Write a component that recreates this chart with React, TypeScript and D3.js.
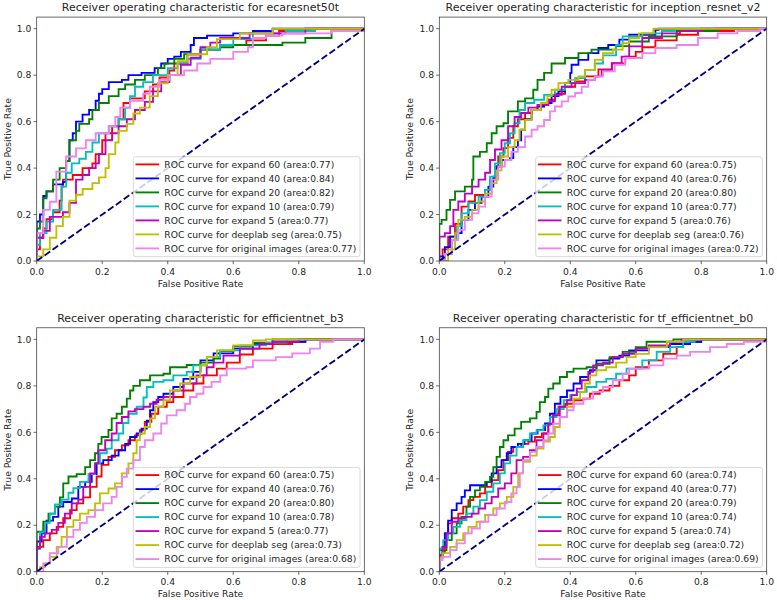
import React from "react";
import * as d3 from "d3";

type Pt = [number, number];

// ---------- labels & ticks ----------
const panelTitles = [
  "Receiver operating characteristic for ecaresnet50t",
  "Receiver operating characteristic for inception_resnet_v2",
  "Receiver operating characteristic for efficientnet_b3",
  "Receiver operating characteristic for tf_efficientnet_b0",
];
const seriesLabels = [
  "ROC curve for expand 60",
  "ROC curve for expand 40",
  "ROC curve for expand 20",
  "ROC curve for expand 10",
  "ROC curve for expand 5",
  "ROC curve for deeplab seg",
  "ROC curve for original images",
];
const xTicks = [0, 0.2, 0.4, 0.6, 0.8, 1.0];
const yTicks = [0, 0.2, 0.4, 0.6, 0.8, 1.0];
const xLabel = "False Positive Rate";
const yLabel = "True Positive Rate";

// ---------- AUC values ----------
const ecaresnetAreas = [0.77, 0.84, 0.82, 0.79, 0.77, 0.75, 0.77];
const inceptionAreas = [0.75, 0.76, 0.8, 0.77, 0.76, 0.76, 0.72];
const effb3Areas = [0.75, 0.76, 0.8, 0.78, 0.77, 0.73, 0.68];
const tfEffb0Areas = [0.74, 0.77, 0.79, 0.74, 0.74, 0.72, 0.69];

// ---------- ecaresnet50t ----------
const ecaE60: Pt[] = [[0,0],[0,0.05],[0.01,0.1],[0.02,0.14],[0.03,0.18],[0.05,0.21],[0.07,0.26],[0.076,0.32],[0.08,0.35],[0.11,0.37],[0.14,0.4],[0.17,0.42],[0.18,0.46],[0.2,0.52],[0.21,0.55],[0.23,0.58],[0.25,0.61],[0.265,0.68],[0.285,0.7],[0.33,0.73],[0.355,0.76],[0.375,0.79],[0.405,0.82],[0.42,0.85],[0.46,0.89],[0.5,0.91],[0.56,0.93],[0.64,0.95],[0.7,0.97],[0.74,0.99],[0.82,1],[1,1]];
const ecaE40: Pt[] = [[0,0],[0,0.17],[0.01,0.2],[0.02,0.28],[0.03,0.3],[0.05,0.33],[0.08,0.34],[0.09,0.43],[0.1,0.52],[0.11,0.55],[0.12,0.6],[0.14,0.63],[0.16,0.65],[0.18,0.69],[0.19,0.72],[0.2,0.74],[0.22,0.77],[0.26,0.78],[0.28,0.8],[0.32,0.81],[0.36,0.83],[0.38,0.85],[0.4,0.87],[0.42,0.88],[0.44,0.9],[0.47,0.93],[0.48,0.96],[0.52,0.97],[0.6,0.98],[0.66,0.99],[0.72,1],[1,1]];
const ecaE20: Pt[] = [[0,0],[0,0.14],[0.01,0.17],[0.02,0.27],[0.03,0.3],[0.05,0.35],[0.07,0.4],[0.09,0.43],[0.1,0.52],[0.12,0.56],[0.13,0.59],[0.16,0.61],[0.17,0.65],[0.19,0.68],[0.22,0.71],[0.25,0.74],[0.27,0.76],[0.3,0.78],[0.33,0.8],[0.37,0.83],[0.39,0.85],[0.42,0.87],[0.45,0.89],[0.5,0.91],[0.56,0.92],[0.6,0.93],[0.75,0.94],[0.82,0.96],[0.9,0.99],[1,1]];
const ecaE10: Pt[] = [[0,0],[0,0.07],[0.01,0.12],[0.03,0.17],[0.05,0.22],[0.076,0.32],[0.09,0.38],[0.107,0.42],[0.13,0.44],[0.15,0.47],[0.17,0.51],[0.19,0.55],[0.22,0.58],[0.25,0.61],[0.27,0.66],[0.285,0.71],[0.3,0.75],[0.325,0.77],[0.355,0.8],[0.4,0.83],[0.43,0.85],[0.46,0.87],[0.5,0.91],[0.56,0.93],[0.6,0.955],[0.66,0.98],[0.76,0.99],[0.85,1],[1,1]];
const ecaE5: Pt[] = [[0,0],[0,0.1],[0.02,0.13],[0.04,0.19],[0.08,0.21],[0.1,0.25],[0.12,0.35],[0.14,0.37],[0.16,0.4],[0.18,0.42],[0.19,0.46],[0.21,0.52],[0.23,0.55],[0.25,0.58],[0.275,0.61],[0.3,0.65],[0.33,0.685],[0.355,0.73],[0.38,0.77],[0.405,0.8],[0.44,0.845],[0.47,0.875],[0.5,0.92],[0.53,0.94],[0.56,0.96],[0.65,0.98],[0.82,1],[1,1]];
const ecaDeeplab: Pt[] = [[0,0],[0,0.02],[0.02,0.05],[0.04,0.1],[0.06,0.15],[0.08,0.19],[0.1,0.26],[0.12,0.285],[0.14,0.31],[0.17,0.335],[0.19,0.36],[0.21,0.4],[0.22,0.46],[0.24,0.51],[0.25,0.56],[0.275,0.59],[0.295,0.635],[0.315,0.66],[0.345,0.71],[0.37,0.765],[0.4,0.8],[0.43,0.86],[0.46,0.89],[0.52,0.92],[0.55,0.955],[0.62,0.98],[0.72,1],[1,1]];
const ecaOriginal: Pt[] = [[0,0],[0,0.12],[0.02,0.22],[0.04,0.255],[0.06,0.385],[0.09,0.45],[0.12,0.485],[0.15,0.52],[0.18,0.55],[0.22,0.58],[0.24,0.62],[0.255,0.66],[0.285,0.69],[0.325,0.72],[0.345,0.75],[0.375,0.78],[0.405,0.8],[0.45,0.82],[0.49,0.85],[0.53,0.87],[0.6,0.9],[0.645,0.92],[0.66,0.96],[0.7,0.97],[0.75,0.98],[0.9,0.99],[1,1]];

// ---------- inception_resnet_v2 ----------
const incE60: Pt[] = [[0,0],[0.01,0.05],[0.027,0.105],[0.048,0.16],[0.068,0.234],[0.089,0.256],[0.109,0.284],[0.14,0.306],[0.155,0.35],[0.17,0.407],[0.18,0.45],[0.196,0.486],[0.21,0.53],[0.226,0.58],[0.24,0.61],[0.262,0.637],[0.282,0.65],[0.31,0.672],[0.333,0.694],[0.353,0.72],[0.384,0.75],[0.415,0.773],[0.445,0.795],[0.486,0.825],[0.527,0.85],[0.568,0.88],[0.6,0.9],[0.62,0.92],[0.66,0.95],[0.725,0.974],[0.79,0.99],[0.9,1],[1,1]];
const incE40: Pt[] = [[0,0],[0,0.02],[0.017,0.06],[0.033,0.105],[0.048,0.12],[0.068,0.177],[0.089,0.22],[0.109,0.25],[0.129,0.277],[0.15,0.32],[0.165,0.363],[0.175,0.407],[0.19,0.435],[0.216,0.443],[0.226,0.49],[0.24,0.52],[0.25,0.565],[0.262,0.61],[0.282,0.65],[0.3,0.665],[0.32,0.68],[0.343,0.71],[0.364,0.73],[0.384,0.766],[0.4,0.81],[0.404,0.845],[0.425,0.866],[0.455,0.895],[0.486,0.917],[0.516,0.93],[0.55,0.953],[0.58,0.974],[0.66,0.995],[0.67,1],[1,1]];
const incE20: Pt[] = [[0,0],[0,0.16],[0.007,0.177],[0.022,0.22],[0.033,0.263],[0.048,0.3],[0.078,0.32],[0.1,0.35],[0.104,0.45],[0.124,0.47],[0.145,0.507],[0.16,0.55],[0.175,0.58],[0.196,0.593],[0.21,0.644],[0.24,0.687],[0.262,0.7],[0.287,0.737],[0.3,0.78],[0.32,0.81],[0.343,0.85],[0.364,0.85],[0.384,0.874],[0.425,0.895],[0.465,0.91],[0.54,0.925],[0.58,0.945],[0.64,0.967],[0.725,0.99],[0.85,1],[1,1]];
const incE10: Pt[] = [[0,0],[0.017,0.03],[0.038,0.09],[0.053,0.15],[0.068,0.205],[0.089,0.25],[0.12,0.277],[0.14,0.306],[0.155,0.363],[0.17,0.42],[0.185,0.464],[0.2,0.507],[0.216,0.55],[0.23,0.593],[0.245,0.65],[0.262,0.68],[0.29,0.694],[0.32,0.715],[0.353,0.737],[0.384,0.766],[0.415,0.787],[0.445,0.823],[0.475,0.85],[0.5,0.885],[0.54,0.93],[0.56,0.967],[0.62,0.98],[0.68,0.99],[0.72,1],[1,1]];
const incE5: Pt[] = [[0,0],[0,0.105],[0.017,0.12],[0.033,0.15],[0.043,0.22],[0.058,0.256],[0.078,0.29],[0.1,0.32],[0.12,0.35],[0.14,0.38],[0.155,0.435],[0.17,0.48],[0.19,0.52],[0.21,0.58],[0.23,0.62],[0.25,0.637],[0.272,0.66],[0.3,0.672],[0.333,0.687],[0.353,0.715],[0.374,0.75],[0.404,0.766],[0.445,0.78],[0.475,0.795],[0.496,0.823],[0.527,0.852],[0.557,0.88],[0.58,0.924],[0.62,0.96],[0.68,0.98],[0.735,0.99],[0.8,1],[1,1]];
const incDeeplab: Pt[] = [[0,0],[0.027,0.05],[0.048,0.12],[0.058,0.177],[0.078,0.19],[0.1,0.22],[0.12,0.256],[0.14,0.29],[0.16,0.335],[0.175,0.39],[0.19,0.45],[0.21,0.49],[0.23,0.52],[0.245,0.565],[0.262,0.607],[0.282,0.65],[0.31,0.68],[0.33,0.71],[0.343,0.737],[0.364,0.766],[0.394,0.78],[0.425,0.795],[0.445,0.823],[0.475,0.866],[0.5,0.895],[0.53,0.91],[0.56,0.938],[0.58,0.96],[0.61,0.98],[0.654,1],[1,1]];
const incOriginal: Pt[] = [[0,0],[0.017,0.03],[0.038,0.09],[0.058,0.134],[0.078,0.177],[0.1,0.205],[0.12,0.234],[0.14,0.277],[0.16,0.35],[0.18,0.407],[0.2,0.435],[0.22,0.47],[0.24,0.49],[0.262,0.536],[0.282,0.565],[0.3,0.58],[0.32,0.607],[0.338,0.644],[0.353,0.665],[0.374,0.687],[0.394,0.708],[0.415,0.723],[0.435,0.75],[0.455,0.78],[0.475,0.795],[0.5,0.816],[0.536,0.845],[0.567,0.874],[0.62,0.895],[0.66,0.917],[0.725,0.93],[0.79,0.96],[0.85,0.98],[0.91,0.99],[0.98,1],[1,1]];

// ---------- efficientnet_b3 ----------
const b3E60: Pt[] = [[0,0],[0,0.107],[0.02,0.136],[0.04,0.165],[0.061,0.193],[0.081,0.23],[0.102,0.265],[0.122,0.294],[0.142,0.32],[0.163,0.365],[0.183,0.41],[0.198,0.46],[0.219,0.494],[0.239,0.523],[0.26,0.544],[0.28,0.566],[0.3,0.587],[0.315,0.609],[0.33,0.645],[0.35,0.68],[0.371,0.71],[0.397,0.73],[0.417,0.752],[0.448,0.78],[0.478,0.81],[0.509,0.845],[0.55,0.874],[0.58,0.9],[0.62,0.935],[0.66,0.96],[0.72,0.98],[0.78,0.99],[0.82,1],[1,1]];
const b3E40: Pt[] = [[0,0],[0,0.13],[0.015,0.165],[0.03,0.22],[0.05,0.236],[0.066,0.28],[0.081,0.3],[0.107,0.315],[0.127,0.365],[0.148,0.387],[0.168,0.42],[0.183,0.466],[0.203,0.48],[0.229,0.5],[0.25,0.523],[0.27,0.55],[0.285,0.58],[0.305,0.595],[0.32,0.616],[0.336,0.65],[0.346,0.695],[0.356,0.73],[0.371,0.752],[0.387,0.766],[0.417,0.795],[0.448,0.83],[0.478,0.86],[0.5,0.91],[0.54,0.94],[0.6,0.96],[0.66,0.98],[0.72,0.99],[0.82,1],[1,1]];
const b3E20: Pt[] = [[0,0],[0,0.172],[0.02,0.215],[0.036,0.25],[0.056,0.28],[0.071,0.32],[0.081,0.38],[0.097,0.41],[0.122,0.42],[0.148,0.45],[0.163,0.48],[0.178,0.51],[0.188,0.55],[0.198,0.58],[0.219,0.61],[0.229,0.66],[0.244,0.68],[0.26,0.71],[0.275,0.745],[0.285,0.78],[0.295,0.8],[0.315,0.824],[0.346,0.845],[0.387,0.852],[0.407,0.88],[0.458,0.89],[0.5,0.9],[0.54,0.917],[0.56,0.95],[0.6,0.97],[0.66,0.986],[0.72,1],[1,1]];
const b3E10: Pt[] = [[0,0],[0,0.1],[0.01,0.17],[0.025,0.21],[0.04,0.25],[0.056,0.29],[0.076,0.31],[0.097,0.34],[0.112,0.36],[0.132,0.387],[0.158,0.42],[0.178,0.466],[0.193,0.51],[0.214,0.53],[0.229,0.566],[0.25,0.595],[0.264,0.64],[0.28,0.68],[0.305,0.71],[0.326,0.75],[0.336,0.795],[0.356,0.817],[0.387,0.824],[0.417,0.845],[0.458,0.86],[0.478,0.888],[0.52,0.924],[0.56,0.953],[0.62,0.974],[0.7,0.986],[0.763,1],[1,1]];
const b3E5: Pt[] = [[0,0],[0,0.1],[0.01,0.15],[0.025,0.165],[0.046,0.18],[0.066,0.21],[0.086,0.25],[0.107,0.294],[0.127,0.31],[0.142,0.365],[0.163,0.423],[0.178,0.466],[0.188,0.523],[0.209,0.566],[0.229,0.595],[0.244,0.64],[0.26,0.666],[0.28,0.69],[0.3,0.7],[0.326,0.71],[0.346,0.723],[0.366,0.74],[0.387,0.752],[0.417,0.78],[0.448,0.81],[0.488,0.845],[0.519,0.88],[0.54,0.9],[0.57,0.93],[0.62,0.96],[0.68,0.98],[0.72,0.99],[0.8,1],[1,1]];
const b3Deeplab: Pt[] = [[0,0],[0.01,0.02],[0.025,0.036],[0.04,0.064],[0.061,0.107],[0.076,0.15],[0.092,0.193],[0.112,0.222],[0.132,0.25],[0.158,0.265],[0.178,0.294],[0.193,0.337],[0.219,0.358],[0.239,0.38],[0.26,0.423],[0.28,0.466],[0.295,0.51],[0.305,0.566],[0.315,0.595],[0.33,0.623],[0.346,0.66],[0.361,0.71],[0.387,0.738],[0.407,0.78],[0.438,0.81],[0.468,0.838],[0.499,0.888],[0.519,0.924],[0.55,0.953],[0.6,0.974],[0.66,0.996],[0.7,1],[1,1]];
const b3Original: Pt[] = [[0,0],[0.02,0.036],[0.04,0.08],[0.066,0.107],[0.092,0.15],[0.112,0.18],[0.132,0.21],[0.153,0.236],[0.178,0.265],[0.203,0.294],[0.229,0.322],[0.244,0.365],[0.26,0.408],[0.275,0.444],[0.295,0.48],[0.315,0.537],[0.33,0.566],[0.356,0.595],[0.38,0.638],[0.397,0.673],[0.427,0.695],[0.453,0.723],[0.468,0.752],[0.488,0.766],[0.509,0.795],[0.534,0.817],[0.56,0.845],[0.58,0.874],[0.64,0.88],[0.66,0.91],[0.73,0.924],[0.78,0.94],[0.834,0.96],[0.865,0.99],[0.905,1],[1,1]];

// ---------- tf_efficientnet_b0 ----------
const b0E60: Pt[] = [[0,0],[0,0.07],[0.01,0.08],[0.017,0.165],[0.027,0.208],[0.038,0.23],[0.058,0.25],[0.073,0.28],[0.089,0.308],[0.104,0.322],[0.124,0.337],[0.14,0.365],[0.16,0.394],[0.18,0.437],[0.196,0.48],[0.21,0.516],[0.226,0.537],[0.25,0.55],[0.272,0.56],[0.292,0.58],[0.313,0.595],[0.333,0.637],[0.348,0.68],[0.364,0.71],[0.384,0.723],[0.41,0.738],[0.44,0.745],[0.46,0.766],[0.49,0.78],[0.52,0.8],[0.55,0.824],[0.58,0.845],[0.6,0.88],[0.64,0.91],[0.684,0.938],[0.725,0.967],[0.745,0.99],[0.8,1],[1,1]];
const b0E40: Pt[] = [[0,0],[0,0.07],[0.01,0.107],[0.017,0.165],[0.027,0.22],[0.038,0.265],[0.053,0.294],[0.068,0.322],[0.078,0.35],[0.094,0.372],[0.145,0.387],[0.16,0.423],[0.175,0.45],[0.19,0.48],[0.206,0.51],[0.22,0.537],[0.24,0.55],[0.26,0.566],[0.282,0.595],[0.3,0.61],[0.323,0.638],[0.338,0.68],[0.353,0.723],[0.37,0.752],[0.39,0.78],[0.41,0.81],[0.43,0.838],[0.46,0.867],[0.48,0.91],[0.52,0.917],[0.55,0.93],[0.58,0.953],[0.64,0.967],[0.705,0.98],[0.766,0.99],[0.8,1],[1,1]];
const b0E20: Pt[] = [[0,0],[0,0.093],[0.022,0.136],[0.038,0.165],[0.053,0.208],[0.068,0.236],[0.083,0.28],[0.094,0.322],[0.109,0.35],[0.124,0.365],[0.14,0.387],[0.155,0.408],[0.165,0.45],[0.175,0.494],[0.185,0.537],[0.196,0.566],[0.21,0.587],[0.23,0.616],[0.25,0.645],[0.277,0.66],[0.297,0.688],[0.307,0.73],[0.323,0.752],[0.333,0.788],[0.348,0.81],[0.368,0.838],[0.39,0.86],[0.41,0.874],[0.45,0.88],[0.48,0.895],[0.52,0.924],[0.56,0.946],[0.6,0.967],[0.633,0.99],[0.715,1],[1,1]];
const b0E10: Pt[] = [[0,0],[0,0.1],[0.012,0.136],[0.027,0.165],[0.043,0.193],[0.063,0.222],[0.083,0.25],[0.104,0.28],[0.124,0.308],[0.145,0.344],[0.165,0.38],[0.185,0.423],[0.2,0.466],[0.216,0.5],[0.236,0.537],[0.256,0.566],[0.277,0.595],[0.297,0.609],[0.318,0.63],[0.338,0.666],[0.358,0.7],[0.38,0.738],[0.4,0.76],[0.42,0.774],[0.45,0.795],[0.48,0.817],[0.51,0.83],[0.54,0.852],[0.572,0.874],[0.62,0.91],[0.664,0.946],[0.705,0.967],[0.745,0.99],[0.78,1],[1,1]];
const b0E5: Pt[] = [[0,0],[0,0.07],[0.01,0.107],[0.022,0.165],[0.038,0.215],[0.058,0.23],[0.078,0.236],[0.099,0.25],[0.12,0.272],[0.14,0.294],[0.16,0.322],[0.18,0.358],[0.2,0.38],[0.22,0.423],[0.236,0.48],[0.256,0.494],[0.277,0.523],[0.297,0.566],[0.318,0.595],[0.333,0.637],[0.348,0.673],[0.368,0.71],[0.39,0.738],[0.404,0.76],[0.42,0.788],[0.435,0.824],[0.455,0.86],[0.47,0.888],[0.5,0.9],[0.53,0.924],[0.56,0.938],[0.6,0.96],[0.64,0.974],[0.705,0.99],[0.74,1],[1,1]];
const b0Deeplab: Pt[] = [[0,0],[0,0.06],[0.01,0.08],[0.033,0.107],[0.053,0.136],[0.073,0.165],[0.089,0.193],[0.114,0.215],[0.14,0.244],[0.165,0.272],[0.185,0.294],[0.206,0.322],[0.226,0.365],[0.241,0.423],[0.256,0.473],[0.277,0.5],[0.297,0.53],[0.318,0.56],[0.338,0.58],[0.353,0.623],[0.368,0.666],[0.39,0.71],[0.41,0.745],[0.43,0.774],[0.445,0.81],[0.46,0.845],[0.48,0.867],[0.51,0.88],[0.54,0.9],[0.572,0.924],[0.6,0.938],[0.64,0.967],[0.695,0.99],[0.745,1],[1,1]];
const b0Original: Pt[] = [[0,0],[0,0.05],[0.01,0.064],[0.033,0.093],[0.053,0.122],[0.078,0.165],[0.099,0.186],[0.124,0.215],[0.15,0.244],[0.175,0.272],[0.2,0.3],[0.22,0.337],[0.236,0.365],[0.246,0.423],[0.256,0.48],[0.277,0.516],[0.297,0.537],[0.318,0.566],[0.333,0.595],[0.348,0.637],[0.368,0.666],[0.39,0.695],[0.41,0.723],[0.44,0.745],[0.47,0.774],[0.5,0.795],[0.53,0.824],[0.56,0.852],[0.58,0.874],[0.64,0.888],[0.684,0.917],[0.725,0.93],[0.766,0.946],[0.827,0.967],[0.878,0.98],[0.93,0.99],[1,1]];

const diagonal: Pt[] = [[0, 0], [1, 1]];

// ---------- styling ----------
const seriesColors = ["#ff0000", "#0000ff", "#008000", "#00bfbf", "#bf00bf", "#bfbf00", "#ee82ee"];
const FONT = "DejaVu Sans, Liberation Sans, sans-serif";
const TXT = "#262626";
const AX = "#3a3a3a";
const FS = 9.2;
const TITLE_FS = 11;
const LW = 1.85;
const UNIT_H = 232.3;

const panelBoxes = [
  { left: 36.7, right: 364.3, bottom: 261 },
  { left: 439.3, right: 766.7, bottom: 261 },
  { left: 36.7, right: 364.3, bottom: 571.7 },
  { left: 439.3, right: 766.7, bottom: 571.7 },
];

const panelSeries: Pt[][][] = [
  [ecaE60, ecaE40, ecaE20, ecaE10, ecaE5, ecaDeeplab, ecaOriginal],
  [incE60, incE40, incE20, incE10, incE5, incDeeplab, incOriginal],
  [b3E60, b3E40, b3E20, b3E10, b3E5, b3Deeplab, b3Original],
  [b0E60, b0E40, b0E20, b0E10, b0E5, b0Deeplab, b0Original],
];
const panelAreas = [ecaresnetAreas, inceptionAreas, effb3Areas, tfEffb0Areas];

function Panel({ idx }: { idx: number }) {
  const box = panelBoxes[idx];
  const top = box.bottom - 1.05 * UNIT_H;
  const x = d3.scaleLinear().domain([0, 1]).range([box.left, box.right]);
  const y = d3.scaleLinear().domain([0, 1.05]).range([box.bottom, top]);
  const stepLine = d3
    .line<Pt>()
    .x((d) => x(d[0]))
    .y((d) => y(d[1]))
    .curve(d3.curveStepAfter);
  const straight = d3
    .line<Pt>()
    .x((d) => x(d[0]))
    .y((d) => y(d[1]));
  const clipId = `clip-${idx}`;
  const series = panelSeries[idx];
  const areas = panelAreas[idx];

  const legW = 226.7;
  const legH = 100;
  const legRight = box.right - 4.3;
  const legBottom = box.bottom - 4.3;
  const legLeft = legRight - legW;
  const legTop = legBottom - legH;
  const cx = (box.left + box.right) / 2;
  const cy = (top + box.bottom) / 2;

  return (
    <g>
      <defs>
        <clipPath id={clipId}>
          <rect x={box.left} y={top} width={box.right - box.left} height={box.bottom - top} />
        </clipPath>
      </defs>
      <text x={cx} y={top - 5.6} textAnchor="middle" fontSize={TITLE_FS} fill={TXT} fontFamily={FONT}>
        {panelTitles[idx]}
      </text>
      <g clipPath={`url(#${clipId})`}>
        {series.map((s, i) => (
          <path key={i} d={stepLine(s) || ""} fill="none" stroke={seriesColors[i]} strokeWidth={LW} strokeLinejoin="miter" />
        ))}
        <path d={straight(diagonal) || ""} fill="none" stroke="#000080" strokeWidth={LW} strokeDasharray="6.8,2.9" />
      </g>
      {/* spines */}
      <rect x={box.left} y={top} width={box.right - box.left} height={box.bottom - top} fill="none" stroke={AX} strokeWidth={0.75} />
      {/* x ticks */}
      {xTicks.map((t) => (
        <g key={`x${t}`}>
          <line x1={x(t)} x2={x(t)} y1={box.bottom} y2={box.bottom + 3.2} stroke={AX} strokeWidth={0.75} />
          <text x={x(t)} y={box.bottom + 13.5} textAnchor="middle" fontSize={FS} fill={TXT} fontFamily={FONT}>
            {t.toFixed(1)}
          </text>
        </g>
      ))}
      {yTicks.map((t) => (
        <g key={`y${t}`}>
          <line x1={box.left - 3.2} x2={box.left} y1={y(t)} y2={y(t)} stroke={AX} strokeWidth={0.75} />
          <text x={box.left - 5.3} y={y(t)} dy="0.35em" textAnchor="end" fontSize={FS} fill={TXT} fontFamily={FONT}>
            {t.toFixed(1)}
          </text>
        </g>
      ))}
      <text x={cx} y={box.bottom + 25.5} textAnchor="middle" fontSize={FS} fill={TXT} fontFamily={FONT}>
        {xLabel}
      </text>
      <text
        transform={`translate(${box.left - 29.2},${cy}) rotate(-90)`}
        dy="0.35em"
        textAnchor="middle"
        fontSize={FS}
        fill={TXT}
        fontFamily={FONT}
      >
        {yLabel}
      </text>
      {/* legend */}
      <rect x={legLeft} y={legTop} width={legW} height={legH} rx={2.5} fill="#ffffff" fillOpacity={0.8} stroke="#cccccc" strokeWidth={0.75} />
      {seriesLabels.map((lab, i) => {
        const ly = legTop + 7.7 + 14 * i;
        return (
          <g key={lab}>
            <line x1={legLeft + 2.2} x2={legLeft + 25.8} y1={ly} y2={ly} stroke={seriesColors[i]} strokeWidth={LW} />
            <text x={legLeft + 31} y={ly} dy="0.35em" fontSize={FS} fill={TXT} fontFamily={FONT}>
              {`${lab} (area:${areas[i].toFixed(2)})`}
            </text>
          </g>
        );
      })}
    </g>
  );
}

export default function App() {
  return (
    <svg
      width={777}
      height={600}
      viewBox="0 0 777 600"
      style={{ position: "absolute", left: 0, top: 0, background: "#ffffff" }}
    >
      <rect x={0} y={0} width={777} height={600} fill="#ffffff" />
      {panelBoxes.map((_, i) => (
        <Panel key={i} idx={i} />
      ))}
    </svg>
  );
}
